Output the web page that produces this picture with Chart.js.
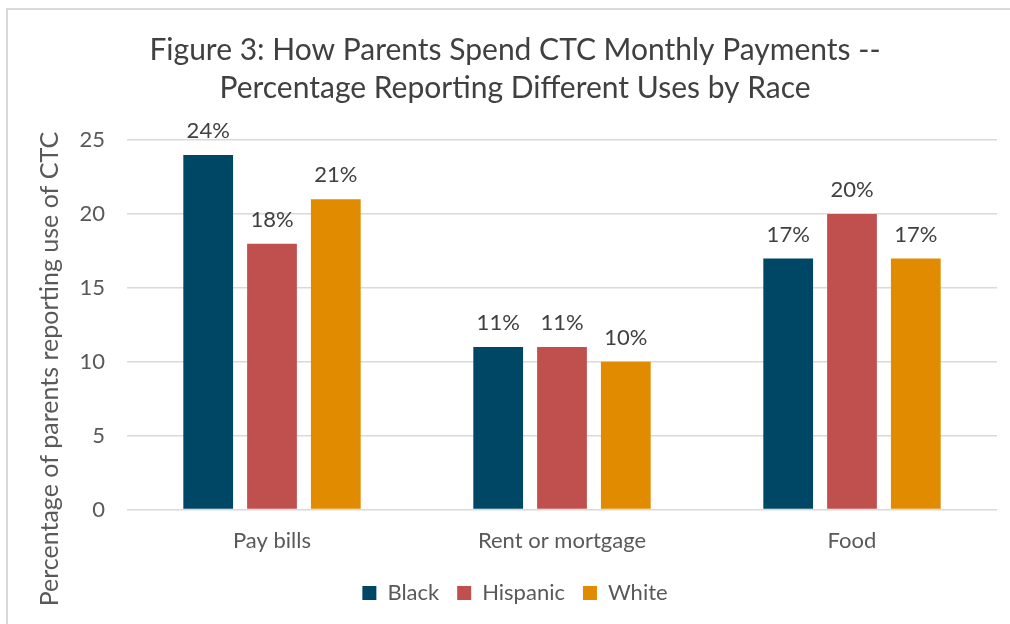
<!DOCTYPE html>
<html lang="en">
<head>
  <meta charset="UTF-8" />
  <title>Figure 3: How Parents Spend CTC Monthly Payments</title>
  <script src="https://cdn.jsdelivr.net/npm/chart.js"></script>
  <style>
    body {
      margin: 0;
      background: #ffffff;
    }

    .chart-box {
      position: relative;
      width: 1010px;
      height: 624px;
    }
  </style>
</head>
<body>
  <div class="chart-box">
    <canvas id="ctcChart"></canvas>
  </div>

  <script>
    const categories = ["Pay bills", "Rent or mortgage", "Food"];
    const blackValues = [24, 11, 17];
    const hispanicValues = [18, 11, 20];
    const whiteValues = [21, 10, 17];
    const yTicks = [0, 5, 10, 15, 20, 25];
    const yTitle = "Percentage of parents reporting use of CTC";

    const fontFamily = "Lato, 'Open Sans', sans-serif";

    // light frame round the whole figure
    const framePlugin = {
      id: "frame",
      beforeDraw(chart) {
        const ctx = chart.ctx;
        ctx.save();
        ctx.strokeStyle = "#d9d9d9";
        ctx.lineWidth = 2;
        ctx.strokeRect(7, 9, chart.width + 10, chart.height + 10);
        ctx.restore();
      }
    };

    // y axis title, sits a bit lower than the plot centre like the original
    const yTitlePlugin = {
      id: "yTitle",
      afterDraw(chart) {
        const ctx = chart.ctx;
        const cy = (chart.chartArea.top + chart.legend.bottom) / 2 - 8;
        ctx.save();
        ctx.translate(50, cy);
        ctx.rotate(-Math.PI / 2);
        ctx.font = "25px " + fontFamily;
        ctx.fillStyle = "#595959";
        ctx.textAlign = "center";
        ctx.textBaseline = "middle";
        ctx.fillText(yTitle, 0, 0);
        ctx.restore();
      }
    };

    // percentage labels above each bar
    const valueLabels = {
      id: "valueLabels",
      afterDatasetsDraw(chart) {
        const ctx = chart.ctx;
        ctx.save();
        ctx.font = "22px " + fontFamily;
        ctx.fillStyle = "#404040";
        ctx.textAlign = "center";
        ctx.textBaseline = "bottom";
        chart.data.datasets.forEach((ds, i) => {
          chart.getDatasetMeta(i).data.forEach((bar, j) => {
            ctx.fillText(ds.data[j] + "%", bar.x, bar.y - 13);
          });
        });
        ctx.restore();
      }
    };

    new Chart(document.getElementById("ctcChart").getContext("2d"), {
      type: "bar",
      data: {
        labels: categories,
        datasets: [
          { label: "Black", data: blackValues, backgroundColor: "#004766" },
          { label: "Hispanic", data: hispanicValues, backgroundColor: "#c0504d" },
          { label: "White", data: whiteValues, backgroundColor: "#e08b00" }
        ]
      },
      options: {
        responsive: true,
        maintainAspectRatio: false,
        animation: false,
        categoryPercentage: 0.66,
        barPercentage: 0.78,
        layout: { padding: { left: 33, right: 13, top: 31, bottom: 10 } },
        plugins: {
          title: {
            display: true,
            text: ["Figure 3: How Parents Spend CTC Monthly Payments --", "Percentage Reporting Different Uses by Race"],
            color: "#404040",
            font: { family: fontFamily, size: 30, weight: "normal", lineHeight: 1.27 },
            padding: { top: 0, bottom: 33 }
          },
          legend: {
            position: "bottom",
            labels: {
              color: "#595959",
              font: { family: fontFamily, size: 22 },
              boxWidth: 14,
              boxHeight: 14,
              padding: 18
            }
          },
          tooltip: { enabled: false }
        },
        scales: {
          x: {
            grid: { display: false },
            border: { display: false },
            ticks: { color: "#595959", font: { family: fontFamily, size: 22 }, padding: 10 }
          },
          y: {
            min: 0,
            max: 25,
            afterBuildTicks(axis) {
              axis.ticks = yTicks.map(v => ({ value: v }));
            },
            // leave room on the left for the hand-drawn axis title
            afterFit(axis) {
              axis.width = 94;
            },
            grid: { color: "#d9d9d9", lineWidth: 1.5, drawTicks: false },
            border: { display: false },
            ticks: { color: "#595959", font: { family: fontFamily, size: 22 }, padding: 22 }
          }
        }
      },
      plugins: [framePlugin, yTitlePlugin, valueLabels]
    });
  </script>
</body>
</html>
